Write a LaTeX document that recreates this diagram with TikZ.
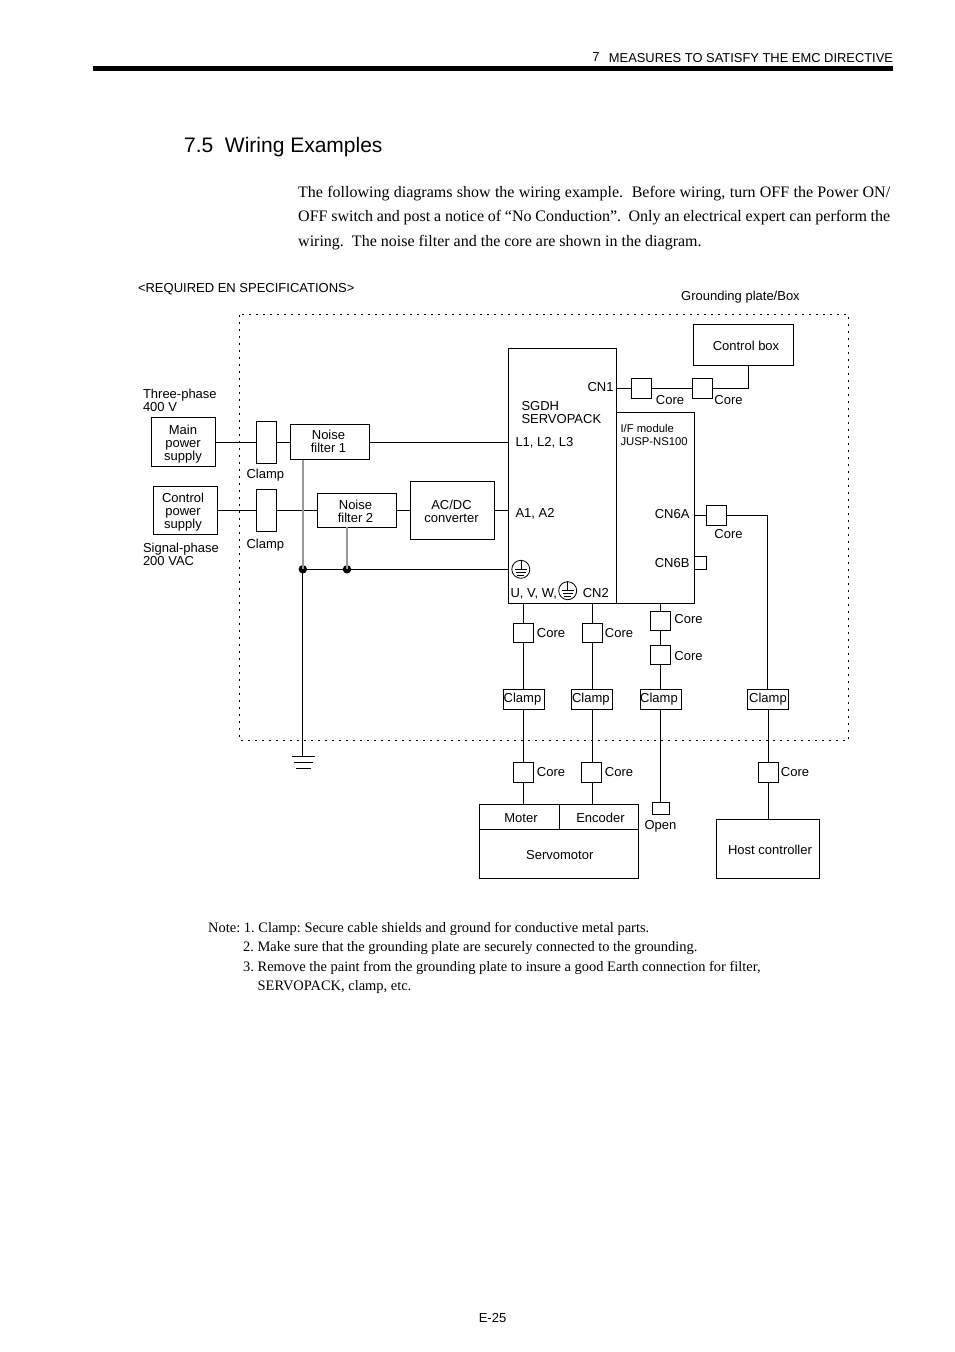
\documentclass[tikz,border=0pt]{standalone}
\usepackage{fontspec}
\setmainfont{Liberation Sans}
\newfontfamily\serifface{Liberation Serif}
\usetikzlibrary{calc}
\tikzset{func/.style={draw,rectangle,line width=0.9pt,inner sep=0pt,outer sep=0pt,align=center,font=\lbl},
	corebox/.style={func,minimum width=20,minimum height=19.5},
	clampbox/.style={func,minimum width=41,minimum height=20},
	lab/.style={inner sep=0pt,outer sep=0pt,align=center,font=\lbl},
	wire/.style={line width=0.9pt},
	shieldwire/.style={line width=1.5pt,draw=black!40},
	dot/.style={circle,fill=black,inner sep=0pt,minimum size=8.5},
	earthring/.style={circle,draw,line width=0.8pt,inner sep=0pt,minimum size=18}}
\newcommand{\lbl}{\fontsize{13}{13}\selectfont}
\newcommand{\bodytxt}{\serifface\fontsize{16}{16}\selectfont}
\newcommand{\notetxt}{\serifface\frenchspacing\fontsize{14.45}{14.45}\selectfont}
\newcommand{\earthmark}[1]{
	\draw[line width=0.6pt] (#1.north) -- (#1.center);
	\draw[line width=0.6pt] ($(#1.center)+(-6,0)$) -- ++(12,0);
	\draw[line width=0.6pt] ($(#1.center)+(-5,2.8)$) -- ++(10,0);
	\draw[line width=0.6pt] ($(#1.center)+(-3.5,5.6)$) -- ++(7,0);
}
\begin{document}
\begin{tikzpicture}[x=1pt,y=-1pt]
		\useasboundingbox[fill=white] (0,0) rectangle (954,1352);
		% page furniture
		\fill (93,66) rectangle (893,71);
		\node[lab,anchor=base east,font=\fontsize{12.9}{13}\selectfont] (head) at (893,62) {MEASURES TO SATISFY THE EMC DIRECTIVE};
		\node[lab,anchor=base] (chap) at (596,61.5) {7};
		\node[inner sep=0pt,anchor=base west,font=\fontsize{21}{21}\selectfont] (title) at (184,152) {7.5\hspace{0.55em}Wiring Examples};
		\node[inner sep=0pt,anchor=north west,text width=592,align=justify,font=\bodytxt] (intro) at (298,186) {\baselineskip=24.5pt The following diagrams show the wiring example.\ \ Before wiring, turn OFF the Power ON/\linebreak OFF switch and post a notice of “No Conduction”.\ \ Only an electrical expert can perform the\linebreak wiring.\ \ The noise filter and the core are shown in the diagram.\par};
		\node[lab,anchor=base west] (req) at (138,292) {<REQUIRED EN SPECIFICATIONS>};
		\node[lab] (gplate) at (740.5,297.5) {Grounding plate/Box};
		
		% grounding plate outline
		\draw[line width=0.9pt,dash pattern=on 2pt off 5pt] (239.5,314.7) rectangle (848.5,740.5);
		
		% supplies and filters
		\node[func,minimum width=64,minimum height=49] (mainps) at (183.3,442) {};
		\node[func,minimum width=64,minimum height=48] (ctrlps) at (185.5,510.3) {};
		\node[func,minimum width=20.5,minimum height=42] (clampa) at (266.5,442) {};
		\node[func,minimum width=20.5,minimum height=42] (clampb) at (266.5,510.3) {};
		\node[func,minimum width=79.5,minimum height=35] (filtera) at (330,442) {};
		\node[func,minimum width=79.5,minimum height=34] (filterb) at (357,510.3) {};
		\node[func,minimum width=84.5,minimum height=58] (acdc) at (452.5,510.3) {};
		\node[lab] (mainlab) at (183,444) {Main\\power\\supply};
		\node[lab] (ctrllab) at (183,512.3) {Control\\power\\supply};
		\node[lab] (filteralab) at (328.5,441) {Noise\\filter 1};
		\node[lab] (filterblab) at (355.5,511.3) {Noise\\filter 2};
		\node[lab] (acdclab) at (451.5,511.3) {AC/DC\\converter};
		\node[lab,anchor=west,align=left] (threeph) at (143,400) {Three-phase\\400 V};
		\node[lab,anchor=west,align=left] (singleph) at (143,554) {Signal-phase\\200 VAC};
		\node[lab] (clampalab) at (265.3,475.5) {Clamp};
		\node[lab] (clampblab) at (265.3,545.5) {Clamp};
		
		% servopack and module
		\node[func,minimum width=108.2,minimum height=255] (servo) at (562.6,475.8) {};
		\node[func,minimum width=77.6,minimum height=191] (ifmod) at (655.5,507.8) {};
		\node[lab,anchor=west,align=left] (sgdh) at (521.5,413) {SGDH\\SERVOPACK};
		\node[lab,anchor=west] (lthree) at (515.5,442.5) {L1, L2, L3};
		\node[lab,anchor=west] (atwo) at (515.5,513.5) {A1, A2};
		\node[lab,anchor=east] (cnone) at (613.5,387.5) {CN1};
		\node[lab,anchor=west,align=left,font=\fontsize{11.3}{13}\selectfont] (ifname) at (620.5,434.5) {I/F module\\JUSP-NS100};
		\node[lab,anchor=east] (cnsixa) at (689.5,514.5) {CN6A};
		\node[lab,anchor=east] (cnsixb) at (689.5,563.5) {CN6B};
		\node[lab,anchor=west] (uvw) at (510.5,593.5) {U, V, W,};
		\node[lab,anchor=east] (cntwo) at (608.8,593.5) {CN2};
		\node[earthring] (eartha) at (520.8,569.3) {};
		\node[earthring] (earthb) at (567.7,590.7) {};
		\earthmark{eartha}
		\earthmark{earthb}
		
		% control box branch
		\node[func,minimum width=100.5,minimum height=41] (ctrlbox) at (743.5,344.8) {};
		\node[lab] (ctrlboxlab) at (746,345.8) {Control box};
		\node[corebox] (coreca) at (641,388.3) {};
		\node[corebox] (corecb) at (702,388.3) {};
		\node[lab] (corecalab) at (670,400.5) {Core};
		\node[lab] (corecblab) at (728.5,400.5) {Core};
		
		% cn6 branch
		\node[corebox,minimum height=20] (coresix) at (716.7,515.3) {};
		\node[lab] (coresixlab) at (728.5,534.5) {Core};
		\node[func,minimum width=12.4,minimum height=13] (cnb) at (700.5,562.8) {};
		
		% lower cores and clamps
		\node[corebox] (coreu) at (523.3,632.8) {};
		\node[corebox] (corev) at (592.3,632.8) {};
		\node[corebox] (corew) at (660.5,620.8) {};
		\node[corebox] (corex) at (660.5,654.8) {};
		\node[clampbox] (clampu) at (523.5,699.3) {};
		\node[clampbox] (clampv) at (591.8,699.3) {};
		\node[clampbox] (clampw) at (660.5,699.3) {};
		\node[clampbox] (clampx) at (767.8,699.3) {};
		\node[lab] (clampulab) at (522.5,699.5) {Clamp};
		\node[lab] (clampvlab) at (590.8,699.5) {Clamp};
		\node[lab] (clampwlab) at (659,699.5) {Clamp};
		\node[lab] (clampxlab) at (768,699.5) {Clamp};
		\node[corebox,minimum height=20] (coreum) at (523.3,772.3) {};
		\node[corebox,minimum height=20] (corevm) at (591.5,772.3) {};
		\node[corebox,minimum height=20] (corexm) at (768.5,772.3) {};
		\node[lab] (coreulab) at (551,633) {Core};
		\node[lab] (corevlab) at (619,633) {Core};
		\node[lab] (corewlab) at (688.5,619) {Core};
		\node[lab] (corexlab) at (688.5,656) {Core};
		\node[lab] (coreumlab) at (551,772) {Core};
		\node[lab] (corevmlab) at (619,772) {Core};
		\node[lab] (corexmlab) at (795,772) {Core};
		
		% motor and host
		\node[func,minimum width=80,minimum height=25] (motor) at (519.3,816.8) {};
		\node[func,minimum width=79,minimum height=25] (encoder) at (598.8,816.8) {};
		\node[func,minimum width=159,minimum height=49] (servom) at (558.8,853.8) {};
		\node[lab] (servomlab) at (559.8,854.8) {Servomotor};
		\node[lab] (motorlab) at (521,818.5) {Moter};
		\node[lab] (encoderlab) at (600.5,817.5) {Encoder};
		\node[func,minimum width=17.5,minimum height=12] (openbox) at (661,808.3) {};
		\node[lab] (openlab) at (660.5,826.5) {Open};
		\node[func,minimum width=103,minimum height=59] (host) at (767.8,848.8) {};
		\node[lab] (hostlab) at (770,849.5) {Host controller};
		
		% ground
		\coordinate (gnd) at (302.8,756);
		\node[dot] (joina) at (302.8,569.3) {};
		\node[dot] (joinb) at (347,569.3) {};
		
		% wiring
		\draw[wire] (mainps.east) -- (clampa.west);
		\draw[wire] (clampa.east) -- (filtera.west);
		\draw[wire] (filtera.east) -- (filtera.east -| servo.west);
		\draw[wire] (ctrlps.east) -- (clampb.west);
		\draw[wire] (clampb.east) -- (filterb.west);
		\draw[wire] (filterb.east) -- (acdc.west);
		\draw[wire] (acdc.east) -- (acdc.east -| servo.west);
		\draw[shieldwire] (joina.center) -- (joina.center |- filtera.south);
		\draw[shieldwire] (joinb.center) -- (joinb.center |- filterb.south);
		\draw[wire] (joina.center) -- (eartha.west -| servo.west);
		\draw[wire] (joina.center) -- (gnd);
		\draw[wire] ($(gnd)+(-10.5,0)$) -- ++(23,0);
		\draw[wire] ($(gnd)+(-9,6.3)$) -- ++(19.5,0);
		\draw[wire] ($(gnd)+(-7,12.3)$) -- ++(15,0);
		\draw[wire] (coreca.west -| servo.east) -- (coreca.west);
		\draw[wire] (coreca.east) -- (corecb.west);
		\draw[wire] (corecb.east) -| (748.3,0 |- ctrlbox.south);
		\draw[wire] (ifmod.east |- coresix.west) -- (coresix.west);
		\draw[wire] (coresix.east) -| (clampx.north);
		\draw[wire] (coreu.north |- servo.south) -- (coreu.north);
		\draw[wire] (coreu.south) -- (coreu.south |- clampu.north);
		\draw[wire] (coreu.south |- clampu.south) -- (coreum.north);
		\draw[wire] (coreum.south) -- (coreum.south |- motor.north);
		\draw[wire] (corev.north |- servo.south) -- (corev.north);
		\draw[wire] (corev.south) -- (corev.south |- clampv.north);
		\draw[wire] (corev.south |- clampv.south) -- (corev.south |- corevm.north);
		\draw[wire] (corev.south |- corevm.south) -- (corev.south |- encoder.north);
		\draw[wire] (corew.north |- ifmod.south) -- (corew.north);
		\draw[wire] (corew.south) -- (corex.north);
		\draw[wire] (corex.south) -- (clampw.north);
		\draw[wire] (clampw.south) -- (clampw.south |- openbox.north);
		\draw[wire] (clampx.south -| corexm.north) -- (corexm.north);
		\draw[wire] (corexm.south) -- (corexm.south |- host.north);
		
		% notes
		\node[inner sep=0pt,anchor=base west,font=\notetxt] (notea) at (208,932) {Note: 1. Clamp: Secure cable shields and ground for conductive metal parts.};
		\node[inner sep=0pt,anchor=base west,font=\notetxt] (noteb) at (243,951.5) {2. Make sure that the grounding plate are securely connected to the grounding.};
		\node[inner sep=0pt,anchor=base west,font=\notetxt] (notec) at (243,971) {3. Remove the paint from the grounding plate to insure a good Earth connection for filter,};
		\node[inner sep=0pt,anchor=base west,font=\notetxt] (noted) at (257.5,990) {SERVOPACK, clamp, etc.};
		\node[lab] (pageno) at (492.5,1318.5) {E-25};
		\end{tikzpicture}
\end{document}
